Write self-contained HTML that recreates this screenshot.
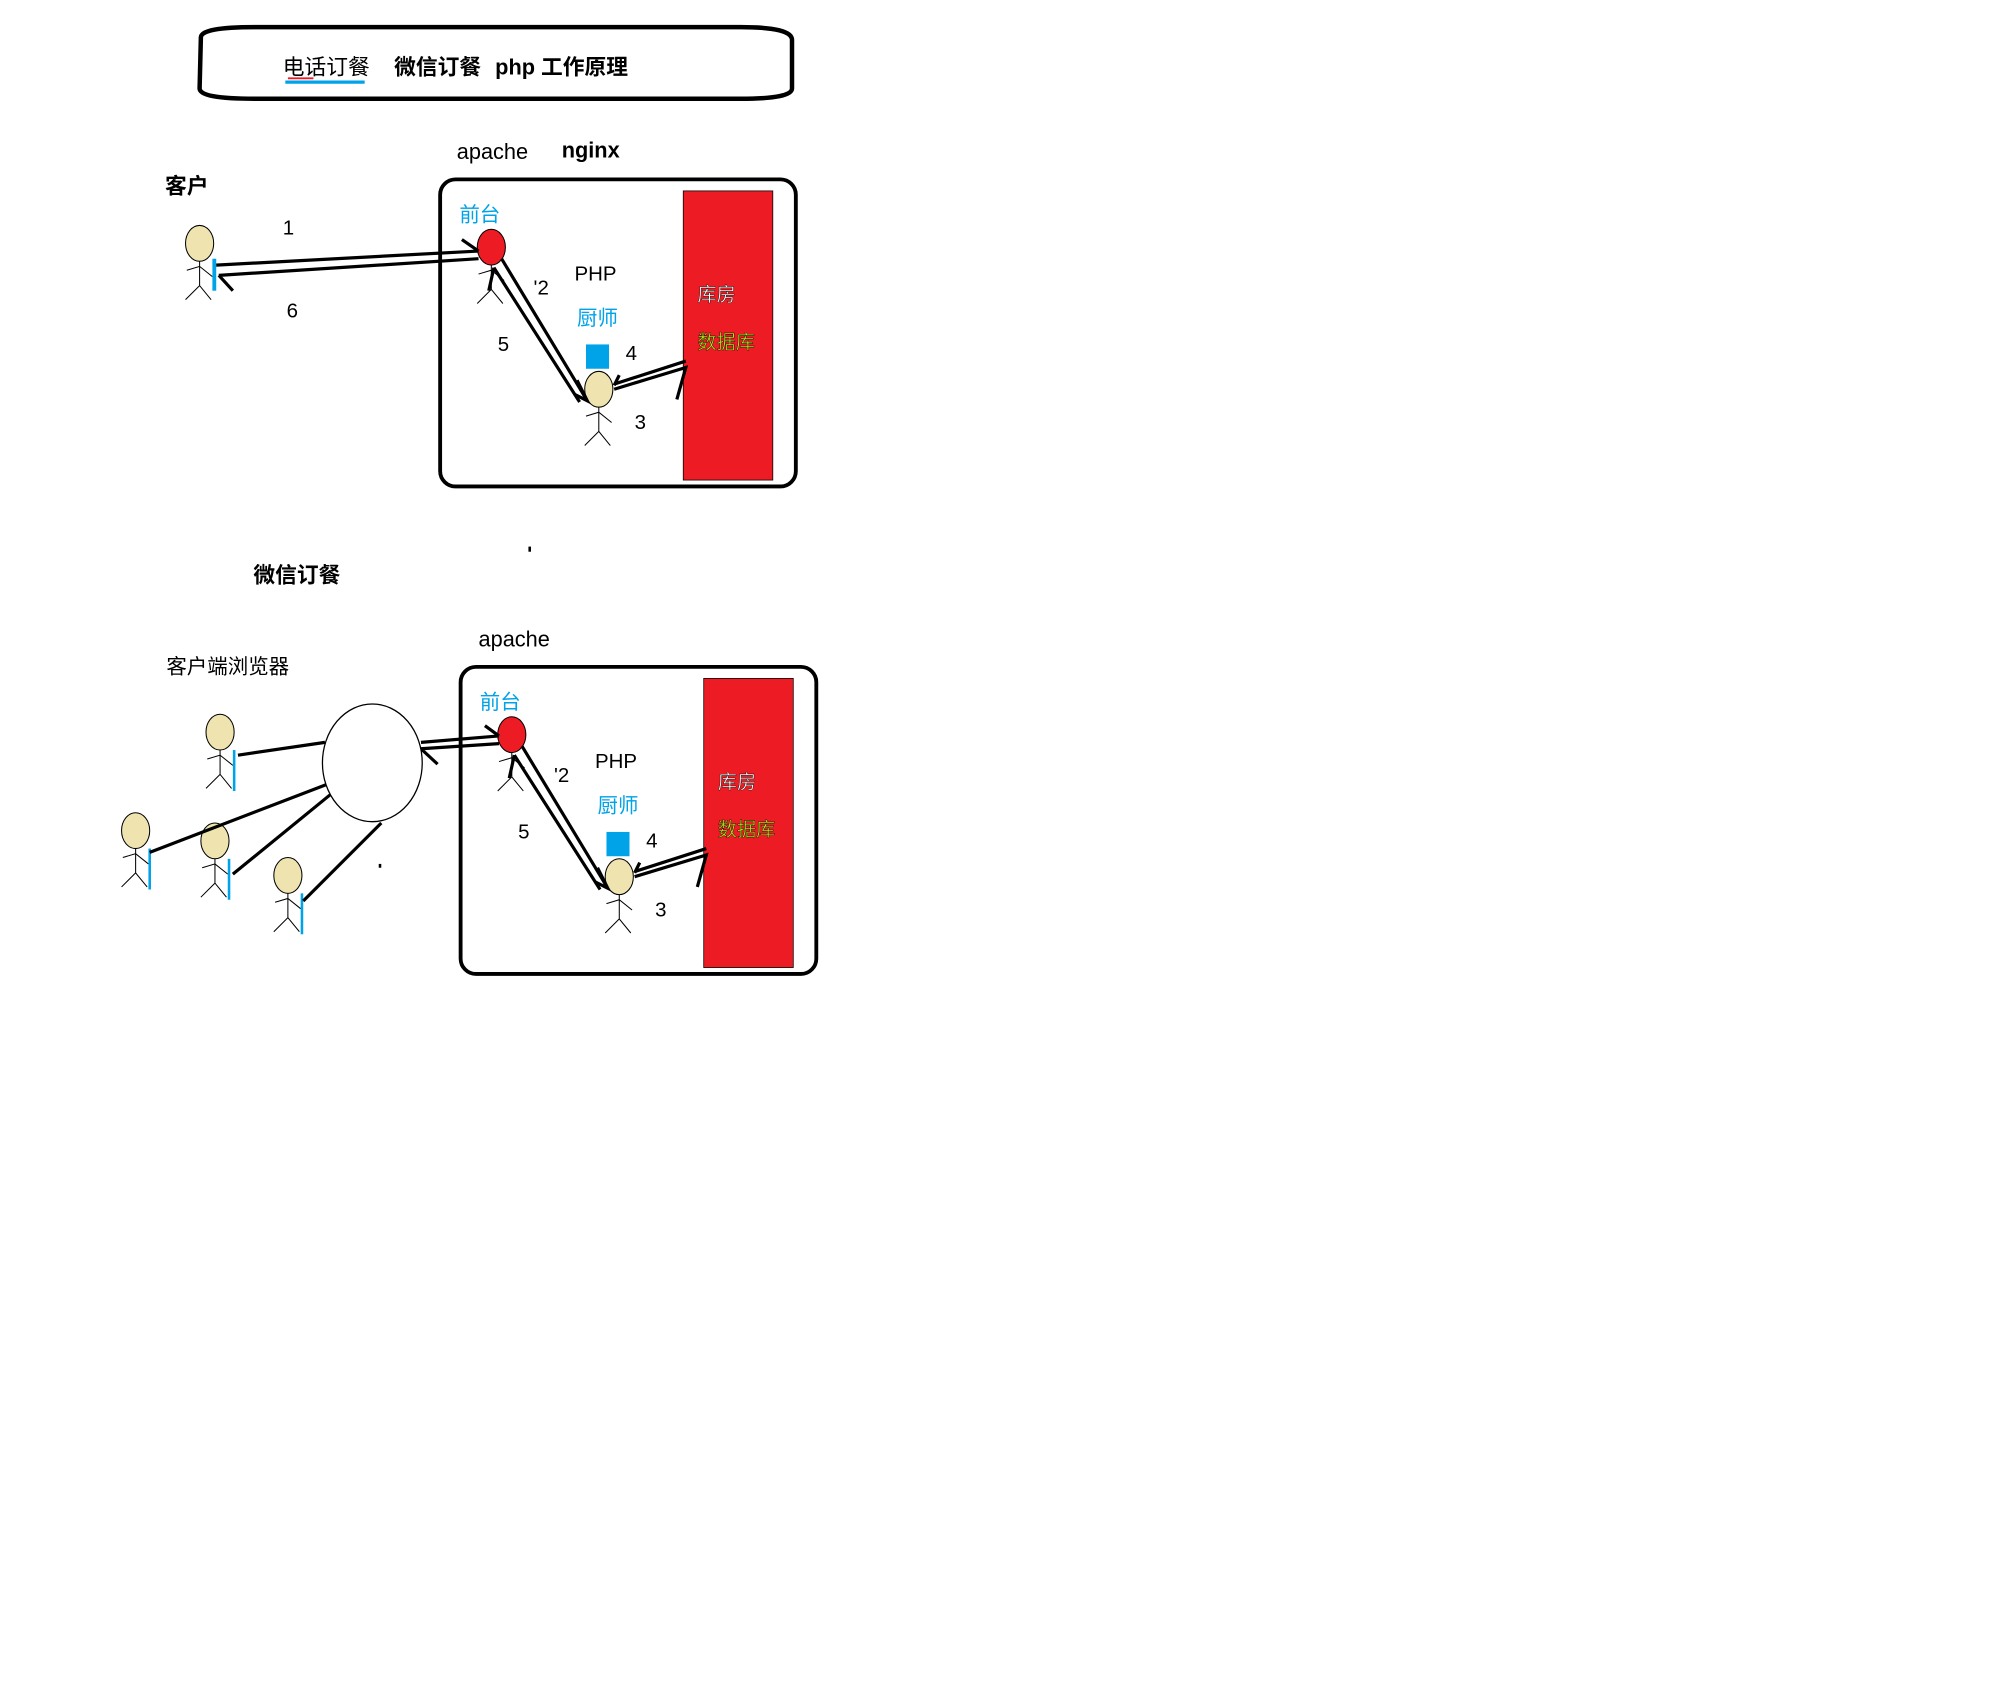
<!DOCTYPE html>
<html><head><meta charset="utf-8"><style>
html,body{margin:0;padding:0;background:#fff;}
svg{display:block;}
text{font-family:"Liberation Sans","Noto Sans CJK SC",sans-serif;}
</style></head><body>
<svg id="s" width="1996" height="1692" viewBox="0 0 1560 1322" xmlns="http://www.w3.org/2000/svg">
<rect width="1560" height="1322" fill="#fff"/>
<g>
<path d="M157 29 Q157 21 199 21 L579 21 Q619 21 619 31 L619 69 Q619 77 579 77 L199 77 Q156 77 156 69 Z" fill="none" stroke="#000" stroke-width="3.5"/>
<text x="221" y="58" font-size="17" fill="#000">电话订餐</text>
<line x1="223" y1="64" x2="285" y2="64" stroke="#00a2e8" stroke-width="2.5"/>
<line x1="225" y1="61" x2="245" y2="61" stroke="#ed1c24" stroke-width="1.5"/>
<text x="308" y="58" font-size="17" font-weight="bold" fill="#000">微信订餐</text>
<text x="387" y="58" font-size="17" font-weight="bold" fill="#000">php 工作原理</text>
</g>
<text x="357" y="124" font-size="17">apache</text>
<text x="439" y="123" font-size="17" font-weight="bold">nginx</text>
<text x="129" y="151" font-size="17" font-weight="bold">客户</text>
<text x="221" y="183" font-size="16">1</text>
<text x="224" y="248" font-size="16">6</text>
<text x="198" y="455" font-size="17" font-weight="bold">微信订餐</text>
<text x="374" y="505" font-size="17">apache</text>
<text x="130" y="526" font-size="16">客户端浏览器</text>
<rect x="413" y="427" width="2" height="4" fill="#000"/>
<rect x="296" y="675" width="2" height="3" fill="#000"/>
<g id="server1" transform="translate(-1,-1)"></g>
<g id="server2" transform="translate(15,380)"></g>
<g id="clients" transform="translate(-1,-1)"></g>
<ellipse cx="291" cy="596" rx="39" ry="46" fill="#fff" stroke="#000" stroke-width="1"/>
</svg>
<script>
const NS='http://www.w3.org/2000/svg';
function mk(parent,tag,attrs){const e=document.createElementNS(NS,tag);for(const k in attrs)e.setAttribute(k,attrs[k]);parent.appendChild(e);return e;}
function figure(p,cx,cy,fill){
  const g=mk(p,'g',{});
  
  
  mk(g,'ellipse',{cx:cx,cy:cy,rx:11,ry:14,fill:fill,stroke:'#000','stroke-width':0.8});
  mk(g,'path',{d:`M${cx} ${cy+14} V${cy+33} M${cx-10} ${cy+21} L${cx} ${cy+18} L${cx+10} ${cy+26} M${cx-11} ${cy+44} L${cx} ${cy+33} L${cx+9} ${cy+44}`,fill:'none',stroke:'#000','stroke-width':0.8});
  return g;
}
function line(p,d,w){return mk(p,'path',{d:d,fill:'none',stroke:'#000','stroke-width':w||2.5});}
function txt(p,x,y,s,opt){const t=mk(p,'text',Object.assign({x:x,y:y,'font-size':16},opt||{}));t.textContent=s;return t;}
function server(p){
  const box=mk(p,'rect',{x:345,y:141,width:278,height:240,rx:12,fill:'#fff',stroke:'#000','stroke-width':3});
  
  
  const db=mk(p,'rect',{x:535,y:150,width:70,height:226,fill:'#ed1c24',stroke:'#000','stroke-width':0.6});
  
  
  const t1=txt(p,546,236,'库房',{fill:'#fff',stroke:'#000','stroke-width':0.3,'font-size':15});
  
  
  const t2=txt(p,546,273,'数据库',{fill:'#b5e61d',stroke:'#000','stroke-width':0.3,'font-size':15});
  
  
  const t3=txt(p,360,174,'前台',{fill:'#00a2e8'});
  
  
  const t4=txt(p,450,220,'PHP');
  
  
  const t5=txt(p,452,255,'厨师',{fill:'#00a2e8'});
  
  
  txt(p,418,231,"'2");
  txt(p,390,275,'5');
  txt(p,490,282,'4');
  txt(p,497,336,'3');
  const sq=mk(p,'rect',{x:459,y:270,width:18,height:19,fill:'#00a2e8'});
  
  
  figure(p,385,194,'#ed1c24');
  figure(p,469,305,'#efe4b0');
  line(p,'M393 203 L460 314 M452 298 L460 314 L450 309');
  line(p,'M387 210 L454 315 M387 210 L383 228');
  line(p,'M481 301 L537 283 M481 305 L537 288 L530 313 M485 294 L481 302');
}
server(document.getElementById('server1'));
server(document.getElementById('server2'));
const cl=document.getElementById('clients');
figure(cl,157,191,'#efe4b0');
mk(cl,'rect',{x:167,y:203,width:3,height:25,fill:'#00a2e8'});
line(cl,'M170 208 L375 197 M362 188 L375 197');
line(cl,'M172 216 L375 203 M172 216 L183 228');
const wc=[[173,573],[107,650],[169,658],[226,685]];
wc.forEach(c=>{figure(cl,c[0],c[1],'#efe4b0');mk(cl,'rect',{x:c[0]+10,y:c[1]+14,width:2,height:32,fill:'#00a2e8'});});
line(cl,'M187 591 L255 581');
line(cl,'M118 667 L256 614');
line(cl,'M183 684 L259 622');
line(cl,'M238 705 L299 644');
line(cl,'M330 581 L391 576 M380 568 L391 576');
line(cl,'M330 586 L391 582 M330 586 L343 598');
</script>
</body></html>
